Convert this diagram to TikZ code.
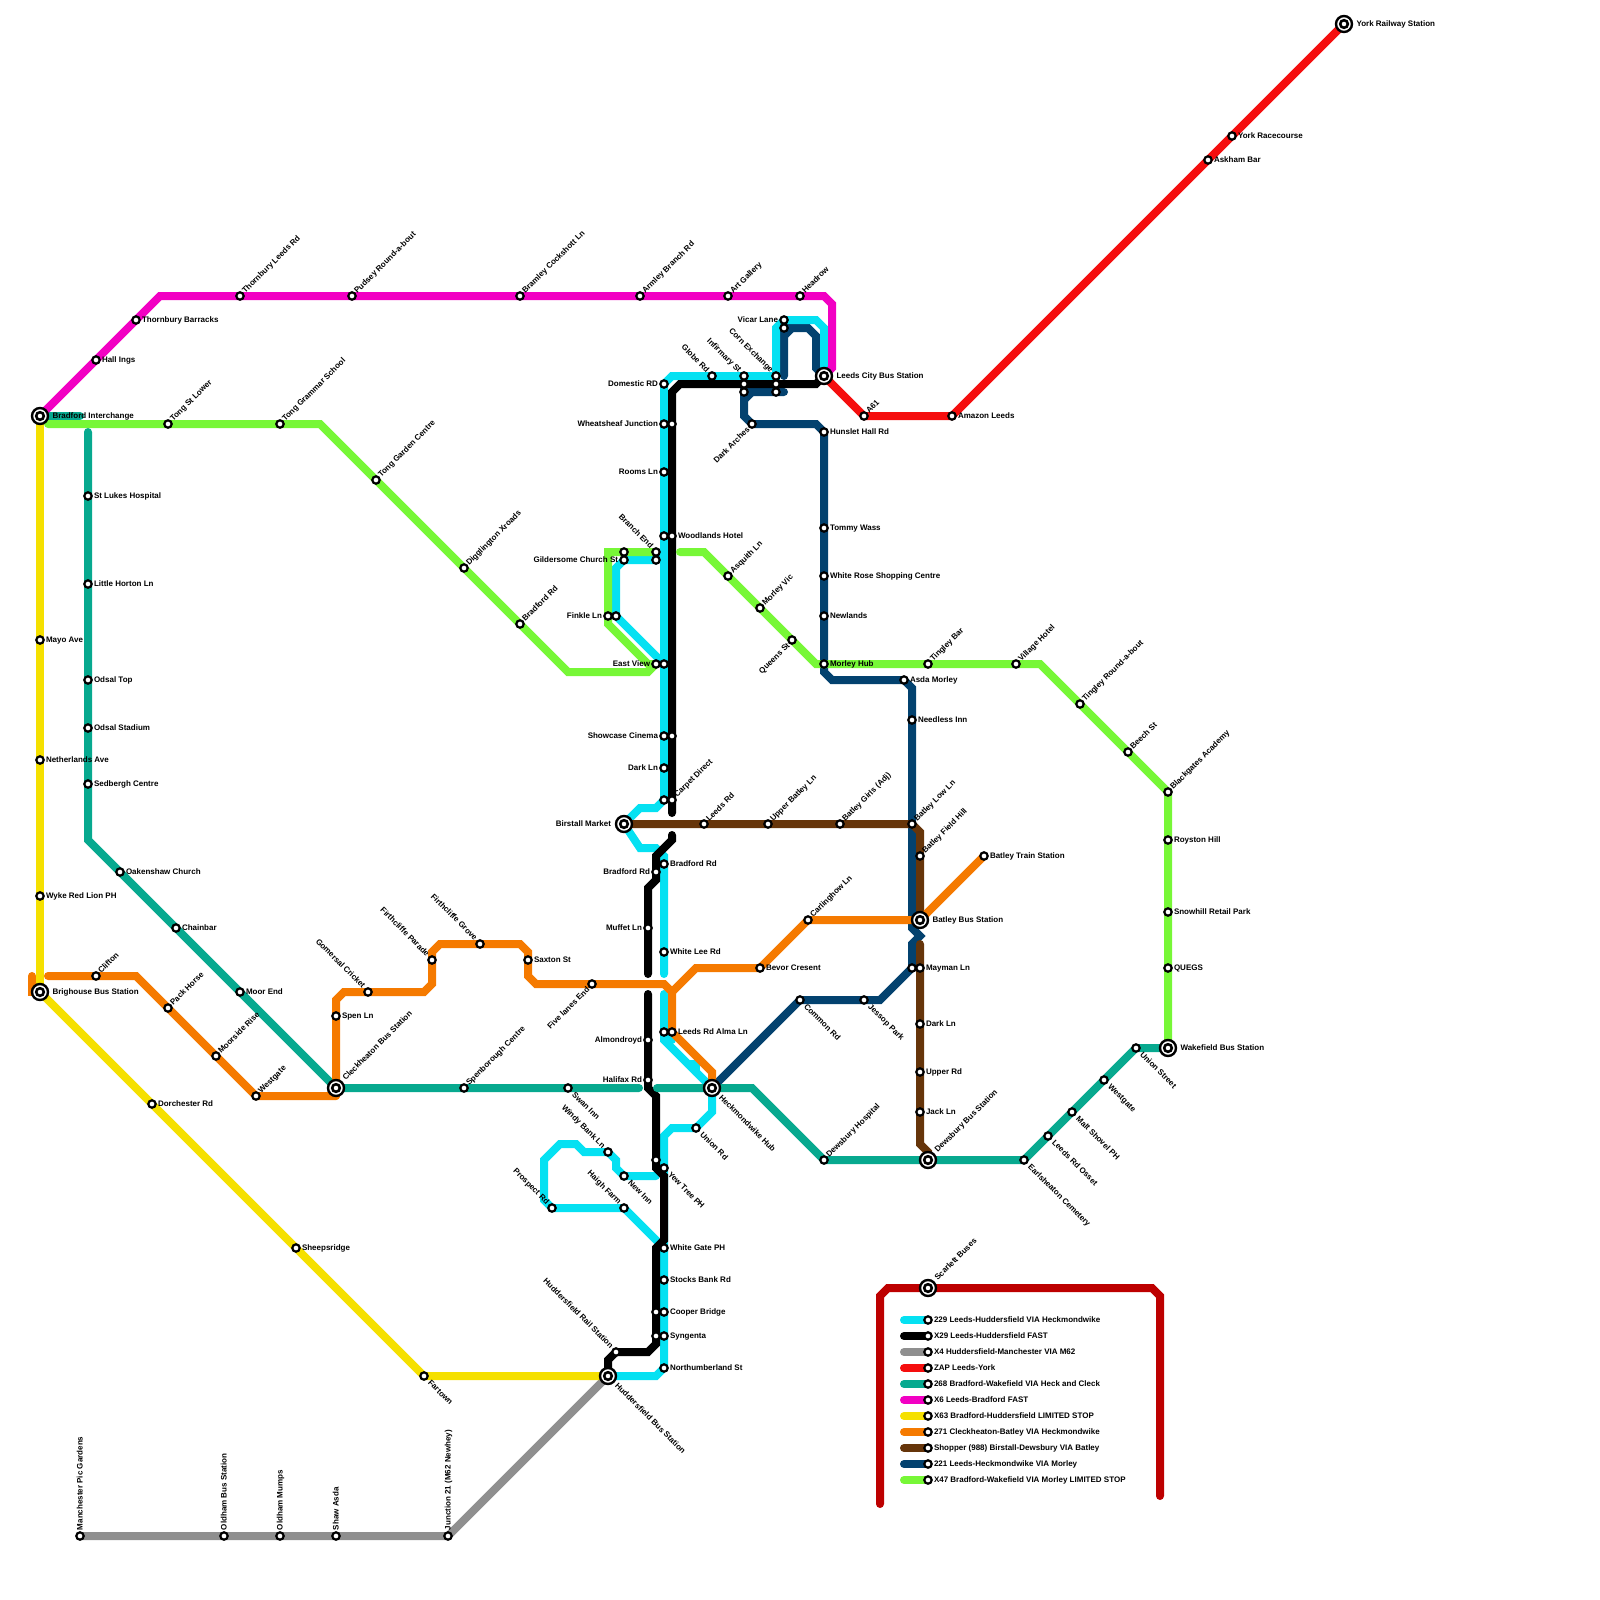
\documentclass[tikz,border=0pt]{standalone}
\usepackage{fontspec}
\setmainfont{Liberation Sans}
\pgfdeclarelayer{bg}
\pgfsetlayers{bg,main}
\definecolor{cCy}{HTML}{05E1F2}
\definecolor{cGy}{HTML}{8F8F8F}
\definecolor{cRe}{HTML}{F50E0E}
\definecolor{cTe}{HTML}{07A98F}
\definecolor{cMa}{HTML}{F200C3}
\definecolor{cYe}{HTML}{F5E000}
\definecolor{cOr}{HTML}{F57A00}
\definecolor{cBr}{HTML}{66350A}
\definecolor{cNa}{HTML}{03426F}
\definecolor{cGr}{HTML}{77F737}
\definecolor{cDr}{HTML}{BD0000}
\tikzset{
 route/.style={line width=8pt,line cap=round,line join=miter},
 lineCy/.style={route,cCy}, lineBk/.style={route,black}, lineGy/.style={route,cGy},
 lineRe/.style={route,cRe}, lineTe/.style={route,cTe}, lineMa/.style={route,cMa},
 lineYe/.style={route,cYe}, lineOr/.style={route,cOr}, lineBr/.style={route,cBr},
 lineNa/.style={route,cNa}, lineGr/.style={route,cGr}, lineDr/.style={route,cDr},
 stopmark/.style={circle,draw=black,fill=white,line width=2.2pt,minimum size=7.4pt,inner sep=0pt,outer sep=0pt},
 hubout/.style={circle,draw=black,fill=white,line width=2.4pt,minimum size=16pt,inner sep=0pt,outer sep=0pt},
 hubin/.style={circle,draw=black,fill=white,line width=2.6pt,minimum size=7.6pt,inner sep=0pt,outer sep=0pt},
 lbl/.style={inner sep=0pt,outer sep=0pt,font=\fontsize{8}{9}\selectfont\bfseries,text=black},
 R/.style={lbl,xshift=6pt,yshift=0.6pt,anchor=mid west},
 L/.style={lbl,xshift=-6pt,yshift=0.6pt,anchor=mid east},
 NE/.style={lbl,xshift=3.5pt,yshift=4pt,rotate=45,anchor=mid west},
 NW/.style={lbl,xshift=-4pt,yshift=5pt,rotate=-45,anchor=mid east},
 SW/.style={lbl,xshift=-3.7pt,yshift=-4.3pt,rotate=45,anchor=mid east},
 SE/.style={lbl,xshift=5.5pt,yshift=-5.5pt,rotate=-45,anchor=mid west},
 UP/.style={lbl,yshift=6pt,rotate=90,anchor=mid west},
 HR/.style={lbl,xshift=12.5pt,yshift=0.6pt,anchor=mid west},
 HL/.style={lbl,xshift=-13pt,yshift=0.6pt,anchor=mid east},
 HNE/.style={lbl,xshift=8pt,yshift=9pt,rotate=45,anchor=mid west},
 HSE/.style={lbl,xshift=8.5pt,yshift=-8.5pt,rotate=-45,anchor=mid west},
}
\newcommand{\St}[4]{\coordinate (#1) at (#2); \node[stopmark] (#1-m) at (#1) {}; \node[#3] (#1-t) at (#1) {#4};}
\newcommand{\Sn}[2]{\coordinate (#1) at (#2); \node[stopmark] (#1-m) at (#1) {};}
\newcommand{\Hb}[4]{\coordinate (#1) at (#2); \node[hubout] (#1-m) at (#1) {}; \node[hubin] (#1-i) at (#1) {}; \node[#3] (#1-t) at (#1) {#4};}
\begin{document}
\begin{tikzpicture}[x=1pt,y=-1pt]
\useasboundingbox (0,0) rectangle (1600,1600);
% hubs
\Hb{bradi}{40,416}{HR}{Bradford Interchange}
\Hb{brig}{40,992}{HR}{Brighouse Bus Station}
\Hb{clec}{336,1088}{HNE}{Cleckheaton Bus Station}
\Hb{heck}{712,1088}{HSE}{Heckmondwike Hub}
\Hb{dews}{928,1160}{HNE}{Dewsbury Bus Station}
\Hb{batl}{920,920}{HR}{Batley Bus Station}
\Hb{birs}{624,824}{HL}{Birstall Market}
\Hb{hudb}{608,1376}{HSE}{Huddersfield Bus Station}
\Hb{leeds}{824,376}{HR}{Leeds City Bus Station}
\Hb{york}{1344,24}{HR}{York Railway Station}
\Hb{wake}{1168,1048}{HR}{Wakefield Bus Station}
\Hb{scar}{928,1288}{HNE}{Scarlett Buses}
% X6
\St{thobar}{136,320}{R}{Thornbury Barracks}
\St{hall}{96,360}{R}{Hall Ings}
\St{thole}{240,296}{NE}{Thornbury Leeds Rd}
\St{pud}{352,296}{NE}{Pudsey Round-a-bout}
\St{bram}{520,296}{NE}{Bramley Cockshott Ln}
\St{arml}{640,296}{NE}{Armley Branch Rd}
\St{artg}{728,296}{NE}{Art Gallery}
\St{head}{800,296}{NE}{Headrow}
% X63
\St{mayo}{40,640}{R}{Mayo Ave}
\St{neth}{40,760}{R}{Netherlands Ave}
\St{wyke}{40,896}{R}{Wyke Red Lion PH}
\St{dorc}{152,1104}{R}{Dorchester Rd}
\St{shee}{296,1248}{R}{Sheepsridge}
\St{fart}{424,1376}{SE}{Fartown}
% X47
\St{tong}{168,424}{NE}{Tong St Lower}
\St{tgs}{280,424}{NE}{Tong Grammar School}
\St{tgc}{376,480}{NE}{Tong Garden Centre}
\St{digg}{464,568}{NE}{Digglington Xroads}
\St{brd}{520,624}{NE}{Bradford Rd}
\St{east}{656,664}{L}{East View}
\St{fin}{608,616}{L}{Finkle Ln}
\Sn{gilg}{624,552}
\St{bran}{656,552}{NW}{Branch End}
\St{asq}{728,576}{NE}{Asquith Ln}
\St{morv}{760,608}{NE}{Morley Vic}
\St{quee}{792,640}{SW}{Queens St}
\St{morh}{824,664}{R}{Morley Hub}
\St{tbar}{928,664}{NE}{Tingley Bar}
\St{vill}{1016,664}{NE}{Village Hotel}
\St{trou}{1080,704}{NE}{Tingley Round-a-bout}
\St{beec}{1128,752}{NE}{Beech St}
\St{blac}{1168,792}{NE}{Blackgates Academy}
\St{roys}{1168,840}{R}{Royston Hill}
\St{snow}{1168,912}{R}{Snowhill Retail Park}
\St{queg}{1168,968}{R}{QUEGS}
% 268
\St{stl}{88,496}{R}{St Lukes Hospital}
\St{lit}{88,584}{R}{Little Horton Ln}
\St{odt}{88,680}{R}{Odsal Top}
\St{ods}{88,728}{R}{Odsal Stadium}
\St{sed}{88,784}{R}{Sedbergh Centre}
\St{oak}{120,872}{R}{Oakenshaw Church}
\St{cha}{176,928}{R}{Chainbar}
\St{moor}{240,992}{R}{Moor End}
\St{spc}{464,1088}{NE}{Spenborough Centre}
\St{swan}{568,1088}{SE}{Swan Inn}
\St{dewh}{824,1160}{NE}{Dewsbury Hospital}
\St{earl}{1024,1160}{SE}{Earlsheaton Cemetery}
\St{osset}{1048,1136}{SE}{Leeds Rd Osset}
\St{malt}{1072,1112}{SE}{Malt Shovel PH}
\St{wesw}{1104,1080}{SE}{Westgate}
\St{unst}{1136,1048}{SE}{Union Street}
% 271
\St{clif}{96,976}{NE}{Clifton}
\St{pack}{168,1008}{NE}{Pack Horse}
\St{moos}{216,1056}{NE}{Moorside Rise}
\St{wesg}{256,1096}{NE}{Westgate}
\St{spen}{336,1016}{R}{Spen Ln}
\St{gome}{368,992}{NW}{Gomersal Cricket}
\St{firp}{432,960}{NW}{Firthcliffe Parade}
\St{firg}{480,944}{NW}{Firthcliffe Grove}
\St{saxt}{528,960}{R}{Saxton St}
\St{five}{592,984}{SW}{Five lanes End}
\St{bevo}{760,968}{R}{Bevor Cresent}
\St{carl}{808,920}{NE}{Carlinghow Ln}
\St{trai}{984,856}{R}{Batley Train Station}
\St{alma}{672,1032}{R}{Leeds Rd Alma Ln}
% 229
\Sn{almc}{664,1032}
\St{whil}{664,952}{R}{White Lee Rd}
\St{bfrc}{664,864}{R}{Bradford Rd}
\Sn{carc}{664,800}
\St{darc}{664,768}{L}{Dark Ln}
\St{show}{664,736}{L}{Showcase Cinema}
\Sn{eastc}{664,664}
\Sn{woodc}{664,536}
\St{room}{664,472}{L}{Rooms Ln}
\St{whea}{664,424}{L}{Wheatsheaf Junction}
\St{dome}{664,384}{L}{Domestic RD}
\St{glob}{712,376}{NW}{Globe Rd}
\St{infa}{744,376}{NW}{Infirmary St}
\St{cora}{776,376}{NW}{Corn Exchange}
\St{vica}{784,320}{L}{Vicar Lane}
\Sn{finc}{616,616}
\St{gilc}{624,560}{L}{Gildersome Church St}
\Sn{branc}{656,560}
\St{nort}{664,1368}{R}{Northumberland St}
\St{synb}{664,1336}{R}{Syngenta}
\St{coob}{664,1312}{R}{Cooper Bridge}
\St{stoc}{664,1280}{R}{Stocks Bank Rd}
\St{whig}{664,1248}{R}{White Gate PH}
\St{yewc}{664,1168}{SE}{Yew Tree PH}
\St{unio}{696,1128}{SE}{Union Rd}
\St{haig}{624,1208}{NW}{Haigh Farm}
\St{pros}{552,1208}{NW}{Prospect Rd}
\St{wind}{608,1152}{NW}{Windy Bank Ln}
\St{newi}{624,1176}{SE}{New Inn}
% X29
\Sn{infb}{744,384}
\Sn{corb}{776,384}
\Sn{wheb}{672,424}
\St{wood}{672,536}{R}{Woodlands Hotel}
\Sn{shob}{672,736}
\St{carb}{672,800}{NE}{Carpet Direct}
\St{brfb}{656,872}{L}{Bradford Rd}
\St{muff}{648,928}{L}{Muffet Ln}
\St{almo}{648,1040}{L}{Almondroyd}
\St{hali}{648,1080}{L}{Halifax Rd}
\Sn{yewb}{656,1160}
\Sn{coob2}{656,1312}
\Sn{synb2}{656,1336}
\St{hudr}{616,1352}{NW}{Huddersfield Rail Station}
% 221
\Sn{infn}{744,392}
\Sn{corn}{776,392}
\Sn{vicn}{784,328}
\St{dark}{752,424}{SW}{Dark Arches}
\St{huns}{824,432}{R}{Hunslet Hall Rd}
\St{tomm}{824,528}{R}{Tommy Wass}
\St{whir}{824,576}{R}{White Rose Shopping Centre}
\St{newl}{824,616}{R}{Newlands}
\St{asda}{904,680}{R}{Asda Morley}
\St{need}{912,720}{R}{Needless Inn}
\St{comm}{800,1000}{SE}{Common Rd}
\St{jess}{864,1000}{SE}{Jessop Park}
\Sn{mayn}{912,968}
% Shopper
\St{ldsr}{704,824}{NE}{Leeds Rd}
\St{uppb}{768,824}{NE}{Upper Batley Ln}
\St{girl}{840,824}{NE}{Batley Girls (Adj)}
\St{blow}{912,824}{NE}{Batley Low Ln}
\St{bfie}{920,856}{NE}{Batley Field Hill}
\St{mayb}{920,968}{R}{Mayman Ln}
\St{dkln}{920,1024}{R}{Dark Ln}
\St{uprd}{920,1072}{R}{Upper Rd}
\St{jack}{920,1112}{R}{Jack Ln}
% ZAP
\St{a61}{864,416}{NE}{A61}
\St{amaz}{952,416}{R}{Amazon Leeds}
\St{askh}{1208,160}{R}{Askham Bar}
\St{yrac}{1232,136}{R}{York Racecourse}
% X4
\St{manc}{80,1536}{UP}{Manchester Pic Gardens}
\St{oldb}{224,1536}{UP}{Oldham Bus Station}
\St{oldm}{280,1536}{UP}{Oldham Mumps}
\St{shaw}{336,1536}{UP}{Shaw Asda}
\St{junc}{448,1536}{UP}{Junction 21 (M62 Newhey)}
% legend
\St{la}{928,1320}{R}{229 Leeds-Huddersfield VIA Heckmondwike}
\St{lb}{928,1336}{R}{X29 Leeds-Huddersfield FAST}
\St{lc}{928,1352}{R}{X4 Huddersfield-Manchester VIA M62}
\St{ld}{928,1368}{R}{ZAP Leeds-York}
\St{le}{928,1384}{R}{268 Bradford-Wakefield VIA Heck and Cleck}
\St{lf}{928,1400}{R}{X6 Leeds-Bradford FAST}
\St{lg}{928,1416}{R}{X63 Bradford-Huddersfield LIMITED STOP}
\St{lh}{928,1432}{R}{271 Cleckheaton-Batley VIA Heckmondwike}
\St{li}{928,1448}{R}{Shopper (988) Birstall-Dewsbury VIA Batley}
\St{lj}{928,1464}{R}{221 Leeds-Heckmondwike VIA Morley}
\St{lk}{928,1480}{R}{X47 Bradford-Wakefield VIA Morley LIMITED STOP}
\begin{pgfonlayer}{bg}
% scarlett box
\draw[lineDr] (880,1504) -- (880,1296) -- (888,1288) -- (scar) -- (1152,1288) -- (1160,1296) -- (1160,1496);
% legend stripes
\draw[lineCy] (904,1320) -- (la);
\draw[lineBk] (904,1336) -- (lb);
\draw[lineGy] (904,1352) -- (lc);
\draw[lineRe] (904,1368) -- (ld);
\draw[lineTe] (904,1384) -- (le);
\draw[lineMa] (904,1400) -- (lf);
\draw[lineYe] (904,1416) -- (lg);
\draw[lineOr] (904,1432) -- (lh);
\draw[lineBr] (904,1448) -- (li);
\draw[lineNa] (904,1464) -- (lj);
\draw[lineGr] (904,1480) -- (lk);
% 221
\draw[lineNa] (heck) -- (comm) -- (jess) -- (880,1000) -- (mayn) -- (912,944) -- (920,936) -- (912,928) -- (blow) -- (need) -- (912,688) -- (asda) -- (832,680) -- (824,672) -- (morh) -- (newl) -- (whir) -- (tomm) -- (huns) -- (816,424) -- (dark) -- (744,416) -- (infn) -- (corn) -- (784,392);
\draw[lineNa] (744,400) -- (752,392);
\draw[lineNa] (784,376) -- (vicn) -- (808,328) -- (816,336) -- (816,368) -- (leeds);
\draw[lineNa] (784,336) -- (792,328);
% 229
\draw[lineCy] (hudb) -- (656,1376) -- (nort) -- (synb) -- (coob) -- (stoc) -- (whig) -- (yewc) -- (664,1136) -- (672,1128) -- (unio) -- (712,1112) -- (heck) -- (664,1040) -- (almc) -- (664,994);
\draw[lineCy] (alma) -- (almc);
\draw[lineCy] (688,1064) -- (696,1064) -- (696,1072);
\draw[lineCy] (672,1040) -- (664,1040);
\draw[lineCy] (664,974) -- (whil) -- (bfrc) -- (664,856) -- (656,848) -- (640,848) -- (birs) -- (640,808) -- (656,808) -- (carc) -- (darc) -- (show) -- (eastc) -- (woodc) -- (room) -- (whea) -- (dome) -- (672,376) -- (glob) -- (infa) -- (cora) -- (776,328) -- (vica) -- (816,320) -- (824,328) -- (leeds);
\draw[lineCy] (eastc) -- (finc) -- (616,568) -- (gilc) -- (branc) -- (664,552);
\draw[lineCy] (whig) -- (haig) -- (pros) -- (544,1200) -- (544,1160) -- (560,1144) -- (576,1144) -- (584,1152) -- (wind) -- (616,1160) -- (616,1168) -- (newi) -- (656,1176);
% X29
\draw[lineBk] (leeds) -- (816,384) -- (corb) -- (infb) -- (680,384) -- (672,392) -- (wheb) -- (wood) -- (shob) -- (carb) -- (672,813);
\draw[lineBk] (672,835) -- (672,840) -- (656,856) -- (brfb) -- (656,880) -- (648,888) -- (muff) -- (648,974);
\draw[lineBk] (648,994) -- (almo) -- (hali) -- (648,1088) -- (656,1096) -- (yewb) -- (656,1168) -- (664,1176) -- (664,1240) -- (656,1248) -- (coob2) -- (synb2) -- (656,1344) -- (648,1352) -- (hudr) -- (608,1360) -- (hudb);
% X4
\draw[lineGy] (manc) -- (oldb) -- (oldm) -- (shaw) -- (junc) -- (hudb);
% ZAP
\draw[lineRe] (leeds) -- (a61) -- (amaz) -- (askh) -- (yrac) -- (york);
% 268
\draw[lineTe] (48,416) -- (80,416);
\draw[lineTe] (88,432) -- (stl) -- (lit) -- (odt) -- (ods) -- (sed) -- (88,840) -- (oak) -- (cha) -- (moor) -- (clec) -- (spc) -- (swan) -- (639,1088);
\draw[lineTe] (657,1088) -- (heck) -- (752,1088) -- (dewh) -- (dews) -- (earl) -- (osset) -- (malt) -- (wesw) -- (unst) -- (wake);
% X6
\draw[lineMa] (bradi) -- (hall) -- (thobar) -- (160,296) -- (thole) -- (pud) -- (bram) -- (arml) -- (artg) -- (head) -- (824,296) -- (832,304) -- (832,368) -- (leeds);
% X63
\draw[lineYe] (bradi) -- (mayo) -- (neth) -- (wyke) -- (brig);
\draw[lineYe] (brig) -- (dorc) -- (shee) -- (fart) -- (hudb);
% X47
\draw[lineGr] (48,424) -- (tong) -- (tgs) -- (320,424) -- (tgc) -- (digg) -- (brd) -- (568,672) -- (648,672) -- (east);
\draw[lineGr] (east) -- (648,664) -- (608,624) -- (fin) -- (608,552) -- (gilg) -- (bran);
\draw[lineGr] (680,552) -- (704,552) -- (asq) -- (morv) -- (quee) -- (816,664) -- (morh) -- (tbar) -- (vill) -- (1040,664) -- (trou) -- (beec) -- (blac) -- (roys) -- (snow) -- (queg) -- (wake);
% Shopper
\draw[lineBr] (birs) -- (ldsr) -- (uppb) -- (girl) -- (blow) -- (920,832) -- (bfie) -- (batl);
\draw[lineBr] (920,944) -- (mayb) -- (dkln) -- (uprd) -- (jack) -- (920,1144) -- (928,1152) -- (dews);
% 271
\draw[lineOr] (brig) -- (32,992) -- (32,976);
\draw[lineOr] (48,976) -- (clif) -- (136,976) -- (pack) -- (moos) -- (wesg) -- (336,1096);
\draw[lineOr] (336,1096) -- (clec) -- (spen) -- (336,1000) -- (344,992) -- (gome) -- (424,992) -- (432,984) -- (firp) -- (432,952) -- (440,944) -- (firg) -- (520,944) -- (528,952) -- (saxt) -- (528,976) -- (536,984) -- (five) -- (664,984) -- (672,992) -- (696,968) -- (bevo) -- (carl) -- (batl) -- (trai);
\draw[lineOr] (672,992) -- (alma) -- (712,1072) -- (heck);
\end{pgfonlayer}
\end{tikzpicture}
\end{document}
